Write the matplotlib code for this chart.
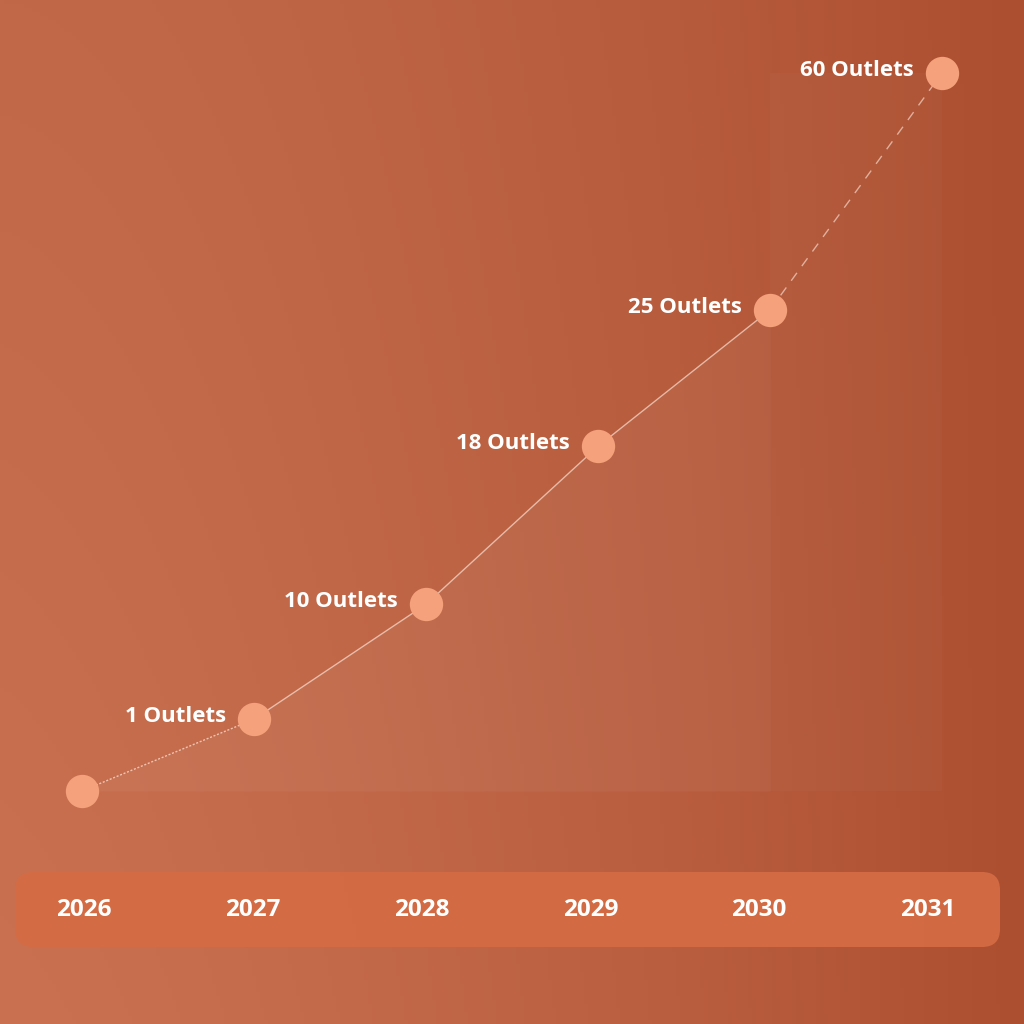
import numpy as np
import matplotlib
matplotlib.use("Agg")
import matplotlib.pyplot as plt
from matplotlib.patches import FancyBboxPatch

# ---- data ----
years = ["2026", "2027", "2028", "2029", "2030", "2031"]
outlets = [0, 1, 10, 18, 25, 60]
# plotted heights (percent of chart height)
heights = [0, 10, 26, 48, 67, 100]
labels = ["", "1 Outlets", "10 Outlets", "18 Outlets", "25 Outlets", "60 Outlets"]

W = H = 1024
FONT = "Open Sans"
fig = plt.figure(figsize=(10.24, 10.24), dpi=100)

# ---- background gradient ----
bg = fig.add_axes([0, 0, 1, 1])
bg.set_axis_off()
xx, yy = np.meshgrid(np.linspace(0, 1, 256), np.linspace(0, 1, 256))  # yy=0 top
left_col = np.array([192, 104, 72]) / 255
right_col = np.array([172, 78, 48]) / 255
t = np.clip(xx ** 1.7, 0, 1)
img = left_col[None, None, :] * (1 - t[..., None]) + right_col[None, None, :] * t[..., None]
light = 0.035 * yy * (1 - xx)
img = np.clip(img + light[..., None], 0, 1)
bg.imshow(img, extent=[0, W, 0, H], aspect="auto", origin="upper")
bg.set_xlim(0, W)
bg.set_ylim(0, H)

# rounded bar behind the year labels (decorative, pixel coordinates)
bar = FancyBboxPatch((15, H - 947), 985, 75,
                     boxstyle="round,pad=0,rounding_size=18",
                     fc="#D46C44", ec="none", alpha=0.95)
bg.add_patch(bar)

# ---- chart axes ----
x0, px_x = 82.0, 172.0
y0, px_y = 791.0, (791 - 73) / 100.0
ax = fig.add_axes([0, 0, 1, 1])
ax.set_xlim(-x0 / px_x, (W - x0) / px_x)
ax.set_ylim(-(H - y0) / px_y, y0 / px_y)
ax.set_axis_off()
ax.patch.set_alpha(0)

x = np.arange(len(years))
h = np.array(heights, dtype=float)

# light fill under the line
ax.fill_between(x[:5], h[:5], 0, color="white", alpha=0.045, lw=0)
ax.fill_between(x[4:], [h[5], h[5]], 0, color="white", alpha=0.025, lw=0)

line_col = (1, 0.92, 0.88)
ax.plot(x[0:2], h[0:2], color=line_col, lw=1.0, ls=(0, (1.5, 1.2)), alpha=0.7, zorder=3)
ax.plot(x[1:5], h[1:5], color=line_col, lw=1.0, alpha=0.65, zorder=3)
ax.plot(x[4:6], h[4:6], color=line_col, lw=1.0, ls=(0, (7, 6)), alpha=0.6, zorder=3)

ax.plot(x, h, ls="none", marker="o", ms=24, mfc="#F5A27C", mec="none", zorder=4)

for xi, hi, lab in zip(x, h, labels):
    if lab:
        ax.annotate(lab, (xi, hi), xytext=(-20, 2), textcoords="offset points",
                    ha="right", va="center", color="white", fontsize=16,
                    fontweight="bold", family=FONT, zorder=5)

# ---- year labels ----
bar_ax = fig.add_axes([0, 0, 1, 1])
bar_ax.set_axis_off()
bar_ax.patch.set_alpha(0)
sx = (928 - 84) / 5.0
bar_ax.set_xlim(-84 / sx, (W - 84) / sx)
bar_ax.set_ylim(H, 0)
for i, yr in enumerate(years):
    bar_ax.text(i, 910, yr, ha="center", va="center", color="white",
                fontsize=17.5, fontweight="bold", family=FONT)

fig.savefig("out.png", dpi=100)
